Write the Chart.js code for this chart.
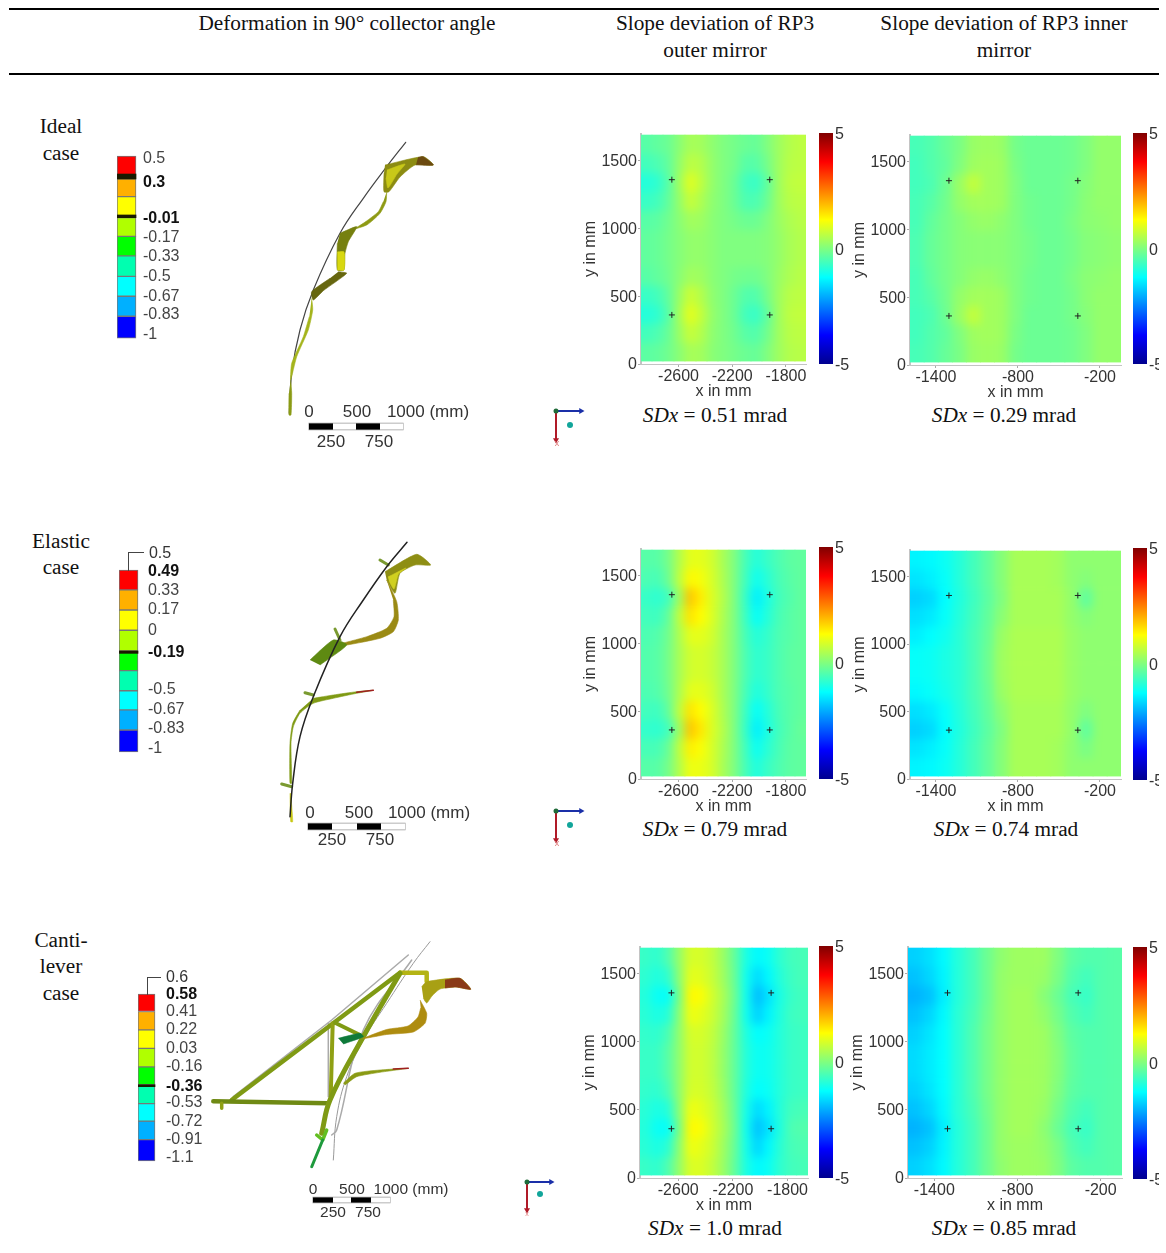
<!DOCTYPE html>
<html>
<head>
<meta charset="utf-8">
<script src="https://cdn.jsdelivr.net/npm/chart.js@4"></script>
<style>
html, body { margin: 0; padding: 0; background: #fff; }
#page { position: relative; width: 1166px; height: 1253px; overflow: hidden; }
canvas { position: absolute; }
.t { position: absolute; transform: translate(-50%, -50%); white-space: nowrap; }
.serif { font-family: "Liberation Serif", serif; font-size: 21.3px; color: #111; }
.sans { font-family: "Liberation Sans", sans-serif; color: #333; }
.axis-x { font-family: "Liberation Sans", sans-serif; color: #d77; }
.rule { position: absolute; background: #000; height: 2px; left: 9px; width: 1150px; }
.box { position: absolute; border: solid #444; border-width: 1.5px 0 0 1.5px; }
</style>
</head>
<body>
<div id="page"></div>
<script>
// ---- slope deviation maps, mrad, rows from top to bottom
var rowY = [1620, 1481, 1342, 1203, 1064, 925, 786, 647, 508, 369, 230, 91];
var outerX = [-2839, -2757, -2675, -2593, -2511, -2429, -2347, -2265, -2183, -2101, -2019, -1937, -1855, -1773, -1691];
var innerX = [-1538, -1435, -1332, -1229, -1126, -1023, -920, -817, -714, -611, -508, -405, -302, -199, -96];
var yTicks = [0, 500, 1000, 1500];
var outerTicks = [-2600, -2200, -1800];
var innerTicks = [-1400, -800, -200];
var barTicks = [-5, 0, 5];
var outerMarksX = [-2650, -1920];
var innerMarksX = [-1305, -362];
var marksY = [1360, 362];

var idealOuter = [
  [-.4,-.3,-.2,.1,.4,.35,.15,0,-.1,-.2,-.25,0,.3,.5,.6],
  [-.6,-.5,-.3,.2,.6,.5,.2,0,-.1,-.4,-.4,-.1,.3,.55,.6],
  [-.9,-.8,-.4,.3,.95,.6,.2,0,-.2,-.6,-.7,-.3,.3,.6,.65],
  [-.7,-.6,-.3,.2,.7,.45,.15,0,-.2,-.5,-.5,-.2,.3,.55,.6],
  [-.4,-.35,-.15,.1,.35,.3,.1,0,-.1,-.2,-.2,0,.25,.45,.55],
  [-.3,-.25,-.1,.05,.2,.2,.1,0,0,0,0,.05,.2,.4,.5],
  [-.3,-.25,-.1,.05,.2,.2,.1,0,0,0,0,.05,.2,.4,.5],
  [-.4,-.3,-.15,.1,.35,.3,.1,0,-.1,-.15,-.15,0,.25,.45,.55],
  [-.7,-.6,-.3,.25,.75,.5,.15,0,-.2,-.45,-.45,-.1,.3,.55,.6],
  [-.9,-.8,-.4,.35,1,.65,.2,0,-.2,-.6,-.7,-.3,.3,.6,.65],
  [-.6,-.5,-.25,.25,.7,.5,.15,0,-.15,-.4,-.45,-.15,.3,.55,.6],
  [-.35,-.3,-.15,.1,.4,.35,.1,0,-.1,-.2,-.25,0,.3,.5,.55]
];
var idealInner = [
  [-.55,-.45,-.25,-.05,.25,.3,.25,-.1,-.2,-.2,-.2,-.15,0,.2,.2],
  [-.6,-.45,-.3,0,.3,.35,.3,-.05,-.2,-.2,-.2,-.15,0,.2,.2],
  [-.6,-.5,-.2,.25,.65,.35,.3,0,-.2,-.2,-.2,-.1,.05,.2,.2],
  [-.55,-.4,-.15,.2,.35,.35,.3,0,-.15,-.2,-.2,-.1,.1,.2,.2],
  [-.55,-.3,-.1,.05,.2,.25,.15,0,-.15,-.2,-.2,-.05,.1,.15,.2],
  [-.5,-.25,-.1,.05,.1,.1,.1,0,-.1,-.2,-.2,-.1,.05,.1,.15],
  [-.5,-.25,-.1,.05,.1,.1,.1,0,-.1,-.2,-.2,-.1,.05,.1,.15],
  [-.55,-.3,-.1,.05,.2,.25,.15,0,-.15,-.2,-.2,-.05,.1,.15,.2],
  [-.55,-.4,-.15,.2,.35,.35,.3,0,-.15,-.2,-.2,-.1,.1,.2,.2],
  [-.6,-.5,-.2,.25,.65,.35,.3,0,-.2,-.2,-.2,-.1,.05,.2,.2],
  [-.6,-.45,-.3,0,.3,.35,.3,-.05,-.2,-.2,-.2,-.15,0,.2,.2],
  [-.55,-.45,-.25,-.05,.25,.3,.25,-.1,-.2,-.2,-.2,-.15,0,.2,.2]
];
var elasticOuter = [
  [-.4,-.4,-.1,.5,1,1,.8,.4,0,-.55,-.9,-.7,-.5,-.35,-.3],
  [-.5,-.55,-.2,.6,1.3,1.15,.85,.45,0,-.6,-1.1,-.85,-.55,-.4,-.3],
  [-.7,-.8,-.6,.3,1.8,1.4,.9,.5,0,-.7,-1.4,-1,-.6,-.45,-.3],
  [-.6,-.65,-.3,.6,1.5,1.25,.9,.45,0,-.65,-1.2,-.9,-.55,-.4,-.3],
  [-.5,-.45,-.15,.45,1,1,.8,.4,0,-.55,-.9,-.75,-.5,-.4,-.3],
  [-.45,-.4,-.1,.4,.8,.85,.7,.4,0,-.5,-.8,-.7,-.5,-.35,-.3],
  [-.45,-.4,-.1,.4,.8,.85,.7,.4,0,-.5,-.8,-.7,-.5,-.35,-.3],
  [-.5,-.45,-.15,.45,1,1,.8,.4,0,-.55,-.95,-.75,-.5,-.4,-.3],
  [-.6,-.65,-.3,.6,1.5,1.25,.9,.45,0,-.65,-1.2,-.9,-.55,-.4,-.3],
  [-.75,-.8,-.6,.3,1.8,1.45,.9,.5,0,-.7,-1.4,-1,-.6,-.4,-.25],
  [-.55,-.55,-.25,.6,1.4,1.2,.85,.45,0,-.6,-1.15,-.85,-.55,-.35,-.3],
  [-.4,-.4,-.1,.5,1.1,1.05,.85,.4,0,-.55,-.95,-.7,-.5,-.35,-.3]
];
var elasticInner = [
  [-1.35,-1.3,-1.15,-.9,-.6,-.3,.05,.4,.4,.4,.35,.15,.15,.15,.15],
  [-1.5,-1.4,-1.2,-.9,-.6,-.3,.05,.4,.4,.4,.35,.15,.05,.15,.15],
  [-1.7,-1.6,-1.25,-.95,-.65,-.35,0,.4,.4,.4,.4,.2,-.3,.15,.15],
  [-1.55,-1.45,-1.2,-.9,-.6,-.3,.1,.4,.4,.4,.4,.2,.05,.15,.15],
  [-1.4,-1.25,-1.1,-.85,-.55,-.25,.25,.45,.45,.45,.45,.25,.15,.15,.15],
  [-1.2,-1.15,-1,-.85,-.55,-.2,.3,.45,.45,.45,.45,.25,.15,.15,.15],
  [-1.2,-1.15,-1,-.85,-.55,-.2,.3,.45,.45,.45,.45,.25,.15,.15,.15],
  [-1.3,-1.2,-1.05,-.85,-.55,-.25,.25,.45,.45,.45,.45,.25,.15,.15,.15],
  [-1.55,-1.45,-1.2,-.9,-.6,-.3,.1,.4,.4,.4,.4,.2,0,.15,.15],
  [-1.7,-1.6,-1.25,-.95,-.65,-.35,0,.4,.4,.4,.4,.2,-.3,.15,.15],
  [-1.5,-1.4,-1.2,-.9,-.6,-.3,.05,.4,.4,.4,.35,.15,-.05,.15,.15],
  [-1.35,-1.3,-1.15,-.9,-.6,-.3,.05,.4,.4,.4,.35,.15,.15,.15,.15]
];
var cantiOuter = [
  [-.7,-.8,-.5,.2,.85,.85,.65,.25,-.3,-1,-1.3,-1.15,-.8,-.6,-.55],
  [-.8,-.95,-.8,.1,1,.95,.7,.3,-.25,-1.1,-1.6,-1.3,-.9,-.65,-.55],
  [-.9,-1.15,-1.2,-.1,1.3,1.2,.8,.4,-.2,-1.1,-1.9,-1.5,-1,-.7,-.6],
  [-.85,-1,-.9,.05,1.1,1,.75,.35,-.25,-1.1,-1.7,-1.35,-.95,-.65,-.6],
  [-.75,-.8,-.55,.15,.85,.85,.65,.25,-.3,-.95,-1.25,-1.15,-.9,-.7,-.65],
  [-.7,-.7,-.4,.15,.8,.8,.6,.2,-.3,-.9,-1.15,-1.1,-.9,-.7,-.65],
  [-.7,-.7,-.4,.15,.8,.8,.6,.2,-.3,-.9,-1.15,-1.1,-.9,-.7,-.65],
  [-.75,-.8,-.55,.15,.85,.85,.65,.25,-.3,-.95,-1.25,-1.15,-.9,-.7,-.65],
  [-.85,-1,-.9,.05,1.1,1,.75,.35,-.25,-1.05,-1.6,-1.35,-.9,-.6,-.55],
  [-.9,-1.15,-1.2,-.1,1.3,1.2,.8,.4,-.2,-1.1,-1.85,-1.5,-.95,-.5,-.45],
  [-.85,-1,-.85,.1,1.1,1,.75,.3,-.25,-1.05,-1.65,-1.3,-.85,-.55,-.5],
  [-.7,-.8,-.5,.2,.9,.9,.65,.25,-.3,-1,-1.3,-1.15,-.8,-.6,-.55]
];
var cantiInner = [
  [-1.7,-1.55,-1.3,-.9,-.6,-.2,.15,.3,.3,.3,0,-.35,-.45,-.45,-.4],
  [-1.85,-1.65,-1.35,-.9,-.6,-.2,.2,.3,.3,.25,-.05,-.45,-.6,-.45,-.4],
  [-2,-1.85,-1.4,-.9,-.6,-.2,.2,.35,.35,.1,-.2,-.55,-.7,-.45,-.4],
  [-1.85,-1.65,-1.3,-.85,-.55,-.15,.2,.35,.35,.2,-.1,-.45,-.6,-.45,-.4],
  [-1.7,-1.5,-1.25,-.85,-.5,-.1,.2,.35,.35,.3,0,-.35,-.45,-.45,-.4],
  [-1.6,-1.45,-1.25,-.85,-.5,-.1,.2,.35,.35,.3,.05,-.3,-.45,-.45,-.4],
  [-1.6,-1.45,-1.25,-.85,-.5,-.1,.2,.35,.35,.3,.05,-.3,-.45,-.45,-.4],
  [-1.7,-1.5,-1.25,-.85,-.5,-.1,.2,.35,.35,.3,0,-.35,-.45,-.45,-.4],
  [-1.85,-1.65,-1.3,-.85,-.55,-.15,.2,.35,.35,.25,-.1,-.45,-.6,-.45,-.4],
  [-2,-1.85,-1.4,-.9,-.6,-.2,.2,.35,.35,.15,-.2,-.55,-.7,-.45,-.4],
  [-1.85,-1.7,-1.35,-.9,-.6,-.2,.2,.3,.3,.2,-.05,-.45,-.6,-.45,-.4],
  [-1.7,-1.55,-1.3,-.9,-.6,-.2,.15,.3,.3,.25,0,-.35,-.45,-.45,-.4]
];

// ---- deformation legends, band edges and tick labels
var idealLevels = [0.5, 0.3, -0.01, -0.17, -0.33, -0.5, -0.67, -0.83, -1];
var idealEdges = [.525, .33, .18, 0, -.16, -.325, -.5, -.67, -.84, -1.026];
var idealStrong = [0.3, -0.01];
var elasticLevels = [0.49, 0.33, 0.17, 0, -0.19, -0.5, -0.67, -0.83, -1];
var elasticEdges = [.507, .34, .17, 0, -.175, -.34, -.51, -.67, -.84, -1.025];
var elasticStrong = [0.49, -0.19];
var cantiLevels = [0.58, 0.41, 0.22, 0.03, -0.16, -0.36, -0.53, -0.72, -0.91, -1.1];
var cantiEdges = [.59, .41, .22, .03, -.16, -.345, -.54, -.72, -.91, -1.13];
var cantiStrong = [0.58, -0.36];

// ---- collector cross sections, [x, y] in mm from the top left of each sketch
var idealArc = [[2057,423],[1867,667],[1633,983],[1400,1333],[1133,1900],[1000,2300],[917,2733],[893,3133]];
var idealFlare = [[1850,650],[2233,567],[2333,650],[2150,650],[2000,770],[1890,917],[1840,917],[1840,733]];
var idealFlareLight = [[1870,700],[2050,640],[1970,740],[1880,880],[1860,780]];
var idealFlareTip = [[2180,575],[2233,567],[2333,650],[2160,648]];
var idealUpper = [[1867,917],[1860,1017],[1800,1133],[1667,1250],[1467,1317],[1407,1367],[1633,1233],[1783,1117],[1833,1017]];
var idealMiddle = [[1400,1333],[1567,1267],[1483,1417],[1450,1533],[1440,1700],[1373,1700],[1373,1433]];
var idealMiddleLight = [[1373,1520],[1440,1520],[1440,1700],[1373,1700]];
var idealLower = [[1383,1717],[1467,1733],[1233,1907],[1133,2000],[1117,1917],[1300,1783]];
var idealNarrow = [[1117,1983],[1127,2100],[1083,2300],[967,2567],[907,2800],[917,2633],[1033,2367],[1093,2167]];
var idealFoot = [[907,2800],[917,2933],[910,3150],[890,3150],[890,2933]];

var elasticArc = [[2070,423],[1867,667],[1633,1000],[1400,1367],[1133,1967],[1000,2367],[927,2833],[900,3167]];
var elasticFlare = [[1850,717],[2167,543],[2307,650],[2150,650],[2000,733],[1950,933],[1867,800]];
var elasticFlareLight = [[1880,770],[2060,680],[1985,740],[1940,890],[1890,810]];
var elasticRibbon = [[1867,800],[1967,1017],[1983,1200],[1933,1317],[1800,1383],[1467,1450],[1367,1450],[1667,1367],[1867,1283],[1940,1167],[1933,1000]];
var elasticPlate = [[1100,1600],[1333,1400],[1467,1450],[1200,1650]];
var elasticBolts = [
  [[1800,600],[1883,650]],
  [[1350,1290],[1400,1400]],
  [[1050,1927],[1133,1950]],
  [[817,2840],[917,2867]]
];
var elasticLower = [[1133,1983],[1333,1950],[1567,1917],[1733,1903],[1567,1933],[1333,1983],[1133,2033],[1000,2133],[933,2267],[910,2433],[917,2833],[900,2833],[900,2433],[927,2233],[1000,2100]];
var elasticLowerTip = [[1567,1923],[1733,1903]];
var elasticFoot = [[907,2933],[927,3217],[907,3217],[900,2933]];

var cantiGhostArc = [[2300,417],[2133,633],[1867,1033],[1633,1400],[1467,1767],[1367,2167],[1333,2600]];
var cantiGhostBrace = [[2083,550],[1317,1200],[333,1967]];
var cantiGhostPost = [[1283,1233],[1283,1967]];
var cantiGhostStrut = [[2117,600],[1633,1300],[1367,2300],[1317,2350]];
var cantiBrace = [[317,2000],[2000,727]];
var cantiHead = [[2000,727],[2267,727],[2267,817]];
var cantiBeam = [[133,2013],[1283,2033]];
var cantiStub = [[217,2033],[217,2083]];
var cantiPost = [[1327,1233],[1307,1967]];
var cantiStrut = [[2000,733],[1633,1367],[1300,2000],[1217,2333]];
var cantiTie = [[1350,1227],[1600,1350]];
var cantiClamp = [[1167,2350],[1227,2400],[1267,2300]];
var cantiTail = [[1227,2400],[1117,2667]];
var cantiPlate = [[1383,1383],[1600,1333],[1633,1367],[1433,1440]];
var cantiFlare = [[2217,867],[2267,817],[2600,783],[2707,893],[2560,870],[2400,890],[2320,960],[2267,1030],[2233,983]];
var cantiFlareTip = [[2450,800],[2600,783],[2707,893],[2560,870],[2450,880]];
var cantiRibbon = [[2200,1000],[2267,1133],[2250,1233],[2133,1320],[1867,1345],[1633,1385],[1867,1295],[2080,1260],[2180,1170],[2207,1080]];
var cantiLower = [[1433,1833],[1550,1733],[1800,1700],[2083,1683],[1800,1723],[1567,1767],[1450,1850]];
var cantiLowerTip = [[1933,1690],[2083,1683]];

// scale bars: segment edges in mm on the sketch, and height
var idealScale = [1090, 1330, 1560, 1800, 2030];
var elasticScale = [1080, 1320, 1570, 1810, 2050];
var cantiScale = [1130, 1330, 1510, 1710, 1900];
var idealScaleY = 3265, elasticScaleY = 3265, cantiScaleY = 3000;

// orientation triads: origin, x end, y end, dot
var idealTriad = [[3560,3110],[3810,3110],[3560,3400],[3700,3250]];
var elasticTriad = [[3560,3110],[3810,3110],[3560,3400],[3700,3250]];
var cantiTriad = [[3270,2820],[3510,2820],[3270,3100],[3400,2940]];

// ---- styles
var bandColors = ['#ff0000', '#ffb000', '#ffff00', '#b0ff00', '#00ff00', '#00ffb0', '#00ffff', '#00b0ff', '#0000ff'];
var jetStops = [[0,0,0,143],[.125,0,0,255],[.375,0,255,255],[.625,255,255,0],[.875,255,0,0],[1,128,0,0]];
var page = document.getElementById('page');
Chart.defaults.font.family = '"Liberation Sans", sans-serif';
Chart.defaults.color = '#333';
Chart.defaults.animation = false;
Chart.defaults.responsive = false;

function jet(v) {
  var t = Math.max(0, Math.min(1, (v + 5) / 10));
  for (var i = 1; i < jetStops.length; i++) {
    if (t <= jetStops[i][0]) {
      var a = jetStops[i-1], b = jetStops[i], f = (t - a[0]) / (b[0] - a[0]);
      return 'rgb(' + [1,2,3].map(function(k) { return Math.round(a[k] + (b[k] - a[k]) * f); }).join(',') + ')';
    }
  }
  return 'rgb(128,0,0)';
}

function addCanvas(left, top, w, h) {
  var c = document.createElement('canvas');
  c.width = w; c.height = h;
  c.style.left = left + 'px'; c.style.top = top + 'px';
  page.appendChild(c);
  return c;
}

function label(x, y, html, cls, size) {
  var d = document.createElement('div');
  d.className = 't ' + cls;
  d.style.left = x + 'px'; d.style.top = y + 'px';
  if (size) d.style.fontSize = size + 'px';
  d.innerHTML = html;
  page.appendChild(d);
}

// smooths the drawn cells the way the contour plot looks, markers stay sharp
var smoothCells = {
  id: 'smoothCells',
  afterDatasetDraw: function(chart, args) {
    if (args.index !== 1) return;
    var half = (rowY[0] - rowY[1]) / 2;
    var a = chart.chartArea, m = 14, w = Math.round(a.width);
    var top = Math.round(chart.scales.y.getPixelForValue(rowY[0] + half));
    var h = Math.round(chart.scales.y.getPixelForValue(rowY[rowY.length - 1] - half)) - top;
    var t = document.createElement('canvas');
    t.width = w + 2 * m; t.height = h + 2 * m;
    var c = t.getContext('2d');
    c.drawImage(chart.canvas, a.left, top, w, h, m, m, w, h);
    c.drawImage(t, m, m, 1, h, 0, m, m, h);
    c.drawImage(t, m + w - 1, m, 1, h, m + w, m, m, h);
    c.drawImage(t, 0, m, w + 2 * m, 1, 0, 0, w + 2 * m, m);
    c.drawImage(t, 0, m + h - 1, w + 2 * m, 1, 0, m + h, w + 2 * m, m);
    var ctx = chart.ctx;
    ctx.save();
    ctx.beginPath();
    ctx.rect(a.left, top, w, h);
    ctx.clip();
    ctx.filter = 'blur(5px)';
    ctx.drawImage(t, a.left - m, top - m);
    ctx.restore();
  }
};

function heatChart(values, xs, xTicks, marksX, xMin, xMax, left, top, w, h) {
  var marginL = 60, marginT = 14, marginB = 37, marginR = 6;
  var half = (rowY[0] - rowY[1]) / 2;
  var marks = [];
  marksX.forEach(function(x) { marksY.forEach(function(y) { marks.push({x: x, y: y}); }); });
  var datasets = [{type: 'scatter', data: marks, pointStyle: 'cross', pointRadius: 3, borderColor: '#222', borderWidth: 1}];
  values.forEach(function(row, r) {
    datasets.push({
      data: row.map(function(v, c) { return {x: xs[c], y: [rowY[r] - half, rowY[r] + half]}; }),
      backgroundColor: row.map(jet),
      grouped: false, barPercentage: 1, categoryPercentage: 1, borderWidth: 0
    });
  });
  new Chart(addCanvas(left - marginL, top - marginT, marginL + w + marginR, marginT + h + marginB), {
    type: 'bar',
    data: {datasets: datasets},
    plugins: [smoothCells],
    options: {
      layout: {autoPadding: false, padding: {top: marginT, right: marginR}},
      plugins: {legend: {display: false}, tooltip: {enabled: false}},
      scales: {
        x: {
          type: 'linear', min: xMin, max: xMax, offset: false,
          afterBuildTicks: function(s) { s.ticks = xTicks.map(function(v) { return {value: v}; }); },
          afterFit: function(s) { s.height = marginB; },
          grid: {drawOnChartArea: false, offset: false, color: '#aaa', tickLength: 3},
          border: {color: '#c4c4c4', width: 1},
          ticks: {font: {size: 16}, padding: 0, maxRotation: 0, callback: function(v) { return String(v); }},
          title: {display: true, text: 'x in mm', font: {size: 16}, padding: 0, color: '#333'}
        },
        y: {
          min: 0, max: 1697,
          afterBuildTicks: function(s) { s.ticks = yTicks.map(function(v) { return {value: v}; }); },
          afterFit: function(s) { s.width = marginL; },
          grid: {drawOnChartArea: false, color: '#aaa', tickLength: 3},
          border: {color: '#c4c4c4', width: 2},
          ticks: {font: {size: 16}, padding: 1, labelOffset: 1, callback: function(v) { return String(v); }},
          title: {display: true, text: 'y in mm', font: {size: 16}, padding: 0, color: '#333'}
        }
      }
    }
  });
}

function colorBar(left, top, w, h, total) {
  var pad = 14;
  new Chart(addCanvas(left, top - pad, total, h + 2 * pad), {
    type: 'bar',
    data: {
      labels: [''],
      datasets: [{
        data: [[barTicks[0], barTicks[2]]],
        barPercentage: 1, categoryPercentage: 1, borderSkipped: false,
        backgroundColor: function(ctx) {
          var a = ctx.chart.chartArea;
          if (!a) return '#000';
          var g = ctx.chart.ctx.createLinearGradient(0, a.bottom, 0, a.top);
          jetStops.forEach(function(s) { g.addColorStop(s[0], 'rgb(' + s[1] + ',' + s[2] + ',' + s[3] + ')'); });
          return g;
        }
      }]
    },
    options: {
      layout: {padding: {top: pad, bottom: pad}},
      plugins: {legend: {display: false}, tooltip: {enabled: false}},
      scales: {
        x: {display: false},
        y: {
          position: 'right', min: -5, max: 5,
          afterBuildTicks: function(s) { s.ticks = barTicks.map(function(v) { return {value: v}; }); },
          afterFit: function(s) { s.width = total - w; },
          grid: {display: false, drawTicks: false}, border: {display: false},
          ticks: {font: {size: 16}, padding: 2, labelOffset: 2, callback: function(v) { return String(v); }}
        }
      }
    }
  });
}

function isStrong(strong, c) {
  return !!c.tick && strong.indexOf(c.tick.value) >= 0;
}

function legendChart(levels, edges, strong, markers, left, top, w, h, gap) {
  var pad = 24, axisW = 70;
  var datasets = [];
  markers.forEach(function(m) {
    datasets.push({data: [m], backgroundColor: '#1a1a00', clip: false, grouped: false, barPercentage: 1, categoryPercentage: 1});
  });
  bandColors.forEach(function(col, i) {
    datasets.push({
      data: [[edges[i], edges[i+1]]], backgroundColor: col, borderColor: '#777', borderWidth: 1,
      borderSkipped: false, clip: false, grouped: false, barPercentage: 1, categoryPercentage: 1
    });
  });
  new Chart(addCanvas(left, top - pad, w + axisW, h + 2 * pad), {
    type: 'bar',
    data: {labels: [''], datasets: datasets},
    options: {
      layout: {padding: {top: pad, bottom: pad}},
      plugins: {legend: {display: false}, tooltip: {enabled: false}},
      scales: {
        x: {display: false},
        y: {
          position: 'right', min: levels[levels.length - 1], max: levels[0],
          afterBuildTicks: function(s) { s.ticks = levels.map(function(v) { return {value: v}; }); },
          afterFit: function(s) { s.width = axisW; },
          grid: {display: false, drawTicks: false}, border: {display: false},
          ticks: {
            padding: gap, autoSkip: false,
            callback: function(v) { return String(v); },
            color: function(c) { return isStrong(strong, c) ? '#111' : '#444'; },
            font: function(c) { return {size: 16, weight: isStrong(strong, c) ? 'bold' : 'normal'}; }
          }
        }
      }
    }
  });
}

function shape(data, color) {
  return {data: data, showLine: true, fill: 'shape', backgroundColor: color, borderColor: color, borderWidth: 0.6, pointRadius: 0, tension: 0.2};
}
function stroke(data, color, width, cap) {
  return {data: data, showLine: true, fill: false, borderColor: color, borderWidth: width, pointRadius: 0, tension: 0, borderCapStyle: cap || 'round', borderJoinStyle: 'round'};
}
function curve(data, color, width) {
  var d = stroke(data, color, width);
  d.tension = 0.4;
  return d;
}

function scaleBar(edges, y, thick) {
  var out = [stroke([[edges[0] - 5, y], [edges[4] + 5, y]], '#999', thick + 1.5, 'butt')];
  for (var i = 0; i < 4; i++) {
    out.push(stroke([[edges[i], y], [edges[i+1], y]], i % 2 ? '#fff' : '#000', thick, 'butt'));
  }
  return out;
}
function triad(t) {
  return [
    stroke([t[0], t[1]], '#1a2fa8', 2, 'butt'),
    stroke([t[0], t[2]], '#b01a28', 2, 'butt'),
    {data: [t[1]], pointStyle: 'triangle', rotation: 90, pointRadius: 3.5, backgroundColor: '#1a2fa8', borderWidth: 0},
    {data: [t[2]], pointStyle: 'triangle', rotation: 180, pointRadius: 3.5, backgroundColor: '#b01a28', borderWidth: 0},
    {data: [t[0]], pointRadius: 2.5, backgroundColor: '#1f6b3a', borderWidth: 0},
    {data: [t[3]], pointRadius: 3, backgroundColor: '#12a59a', borderWidth: 0}
  ];
}

function sketch(layers, top) {
  new Chart(addCanvas(200, top, 400, 360), {
    type: 'scatter',
    data: {datasets: layers.slice().reverse()},
    options: {
      layout: {autoPadding: false},
      plugins: {legend: {display: false}, tooltip: {enabled: false}},
      scales: {
        x: {type: 'linear', min: 0, max: 4000, display: false},
        y: {type: 'linear', min: 0, max: 3600, reverse: true, display: false}
      }
    }
  }).canvas.style.filter = 'blur(0.5px)';
}

// ---- heading
[8, 73].forEach(function(y) {
  var r = document.createElement('div');
  r.className = 'rule'; r.style.top = y + 'px';
  page.appendChild(r);
});
label(347, 23, 'Deformation in 90° collector angle', 'serif');
label(715, 23, 'Slope deviation of RP3', 'serif');
label(715, 50, 'outer mirror', 'serif');
label(1004, 23, 'Slope deviation of RP3 inner', 'serif');
label(1004, 50, 'mirror', 'serif');
label(61, 126, 'Ideal', 'serif'); label(61, 153, 'case', 'serif');
label(61, 541, 'Elastic', 'serif'); label(61, 567, 'case', 'serif');
label(61, 940, 'Canti-', 'serif'); label(61, 966, 'lever', 'serif'); label(61, 993, 'case', 'serif');

// ---- slope maps
heatChart(idealOuter, outerX, outerTicks, outerMarksX, -2880, -1650, 641, 134, 165, 230);
heatChart(idealInner, innerX, innerTicks, innerMarksX, -1590, -46, 910, 135, 211, 230);
heatChart(elasticOuter, outerX, outerTicks, outerMarksX, -2880, -1650, 641, 549, 165, 230);
heatChart(elasticInner, innerX, innerTicks, innerMarksX, -1590, -46, 910, 550, 211, 229);
heatChart(cantiOuter, outerX, outerTicks, outerMarksX, -2880, -1650, 640, 947, 168, 231);
heatChart(cantiInner, innerX, innerTicks, innerMarksX, -1590, -46, 908, 947, 214, 231);

colorBar(819, 133, 14, 231, 46);
colorBar(1133, 133, 14, 231, 26);
colorBar(819, 547, 14, 232, 46);
colorBar(1133, 548, 14, 232, 26);
colorBar(819, 946, 14, 232, 46);
colorBar(1133, 947, 14, 232, 26);

label(715, 415, '<i>SDx</i> = 0.51 mrad', 'serif');
label(1004, 415, '<i>SDx</i> = 0.29 mrad', 'serif');
label(715, 829, '<i>SDx</i> = 0.79 mrad', 'serif');
label(1006, 829, '<i>SDx</i> = 0.74 mrad', 'serif');
label(715, 1228, '<i>SDx</i> = 1.0 mrad', 'serif');
label(1004, 1228, '<i>SDx</i> = 0.85 mrad', 'serif');

// ---- legends
legendChart(idealLevels, idealEdges, idealStrong, [[.372, .33], [.023, 0]], 117, 159, 19, 176, 7);
legendChart(elasticLevels, elasticEdges, elasticStrong, [[-.175, -.195]], 119, 572, 19, 177, 10);
legendChart(cantiLevels, cantiEdges, cantiStrong, [[-.345, -.365]], 138, 995, 17, 163, 11);

// brackets to the top value of the lower two legends
function bracket(x, y, w, h) {
  var d = document.createElement('div');
  d.className = 'box';
  d.style.left = x + 'px'; d.style.top = y + 'px';
  d.style.width = w + 'px'; d.style.height = h + 'px';
  page.appendChild(d);
}
bracket(128, 552, 15, 18);
bracket(147, 977, 13, 17);
label(160, 553, '0.5', 'sans', 16);
label(177, 977, '0.6', 'sans', 16);

// ---- deformation sketches
sketch([
  curve(idealArc, '#444', 1.2),
  shape(idealFlare, '#8c8c12'), shape(idealFlareLight, '#c8c818'), shape(idealFlareTip, '#6b4a10'),
  shape(idealUpper, '#8e9a14'), shape(idealMiddle, '#76800f'), shape(idealMiddleLight, '#d8d810'),
  shape(idealLower, '#66660f'), shape(idealNarrow, '#a4b41c'), shape(idealFoot, '#8a9a14')
].concat(scaleBar(idealScale, idealScaleY, 6), triad(idealTriad)), 100);

sketch([
  shape(elasticFlare, '#8e8e14'), shape(elasticFlareLight, '#d0d020'),
  shape(elasticRibbon, '#9a8a14'), shape(elasticPlate, '#5e8a12')
].concat(elasticBolts.map(function(b) { return stroke(b, '#7a9a30', 3); }), [
  shape(elasticLower, '#7f9a14'), stroke(elasticLowerTip, '#a01f20', 1.5), shape(elasticFoot, '#c8c814'),
  curve(elasticArc, '#222', 1.5)
], scaleBar(elasticScale, elasticScaleY, 6), triad(elasticTriad)), 500);

sketch([
  curve(cantiGhostArc, '#999', 1), stroke(cantiGhostBrace, '#aaa', 1.5), stroke(cantiGhostPost, '#aaa', 1.5), curve(cantiGhostStrut, '#aaa', 1.5),
  stroke(cantiBrace, '#7f9a14', 4.5), stroke(cantiHead, '#b4b414', 4.5), stroke(cantiBeam, '#6f8a14', 4.5), stroke(cantiStub, '#8fa014', 3.5),
  stroke(cantiPost, '#8fa014', 4), curve(cantiStrut, '#7f9a14', 5), stroke(cantiTie, '#7f9a14', 4),
  stroke(cantiClamp, '#62bf20', 3.5), stroke(cantiTail, '#1e9a3c', 3),
  shape(cantiPlate, '#0f7a3a'), shape(cantiFlare, '#a8a014'), shape(cantiFlareTip, '#8a3a18'),
  shape(cantiRibbon, '#ae8c0f'), shape(cantiLower, '#8a9a14'), stroke(cantiLowerTip, '#a01f20', 1.5)
].concat(scaleBar(cantiScale, cantiScaleY, 5), triad(cantiTriad)), 900);

// scale bar captions
[[309, 412, '0'], [357, 412, '500'], [428, 412, '1000 (mm)'], [331, 442, '250'], [379, 442, '750'],
 [310, 813, '0'], [359, 813, '500'], [429, 813, '1000 (mm)'], [332, 840, '250'], [380, 840, '750']
].forEach(function(c) { label(c[0], c[1], c[2], 'sans', 17); });
[[313, 1189, '0'], [352, 1189, '500'], [411, 1189, '1000 (mm)'], [333, 1212, '250'], [368, 1212, '750']
].forEach(function(c) { label(c[0], c[1], c[2], 'sans', 15.5); });
label(557, 443, 'x', 'axis-x', 9);
label(557, 843, 'x', 'axis-x', 9);
label(527, 1213, 'x', 'axis-x', 7);
</script>
</body>
</html>
